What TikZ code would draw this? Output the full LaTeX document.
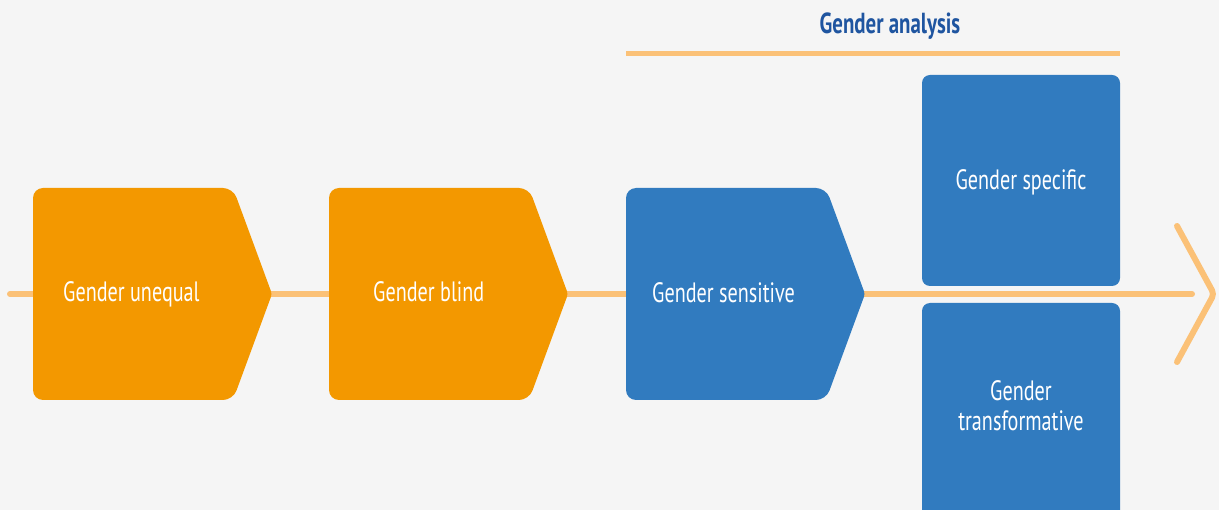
\documentclass[tikz,border=0pt]{standalone}
\usepackage{fontspec}
\setmainfont[FakeStretch=0.72]{PT Sans}
\definecolor{bg}{HTML}{F5F5F5}
\definecolor{org}{HTML}{F39800}
\definecolor{blu}{HTML}{317BBF}
\definecolor{lin}{HTML}{FBC177}
\definecolor{ttl}{HTML}{1F55A0}
\begin{document}
\begin{tikzpicture}[x=1pt,y=-1pt,
  lbl/.style={text=white,font=\fontsize{28}{30}\selectfont,inner sep=0pt},
  axis/.style={draw=lin,line width=6pt,line cap=round,line join=round}]
\fill[bg] (0,0) rectangle (1219,510);
\useasboundingbox (0,0) rectangle (1219,510);
% main line
\coordinate (ls) at (10,294);
\coordinate (le) at (1192,294);
\draw[axis] (ls) -- (le);
\coordinate (c1) at (1177,226);
\coordinate (c2) at (1214,294);
\coordinate (c3) at (1177,362);
\draw[axis,rounded corners=4pt] (c1) -- (c2) -- (c3);
% top line
\coordinate (ta) at (626,54);
\coordinate (tb) at (1120,54);
\draw[draw=lin,line width=5pt] (ta) -- (tb);
\node[font=\bfseries\fontsize{29}{30}\selectfont,text=ttl,inner sep=0pt,anchor=base] (title) at (890,34) {Gender analysis};
% pentagons
\foreach \x/\c/\n in {33/org/p1,329/org/p2,626/blu/p3}{
  \fill[\c,rounded corners=10pt] (\x,294) -- (\x,188) -- (\x+200,188) [rounded corners=3pt] -- (\x+239,294) [rounded corners=10pt] -- (\x+200,400) -- (\x,400) -- cycle;
}
\node[lbl,anchor=base west] (n1) at (63,302) {Gender unequal};
\node[lbl,anchor=base west] (n2) at (373,302) {Gender blind};
\node[lbl,anchor=base west] (n3) at (652,303) {Gender sensitive};
% blue boxes
\fill[blu,rounded corners=8pt] (922,75) rectangle (1120,286);
\fill[blu,rounded corners=8pt] (922,303) rectangle (1120,530);
\node[lbl,anchor=base] (n4) at (1021,190) {Gender specific};
\node[lbl,anchor=base] (n5a) at (1021,401) {Gender};
\node[lbl,anchor=base] (n5b) at (1021,431) {transformative};
\end{tikzpicture}
\end{document}
